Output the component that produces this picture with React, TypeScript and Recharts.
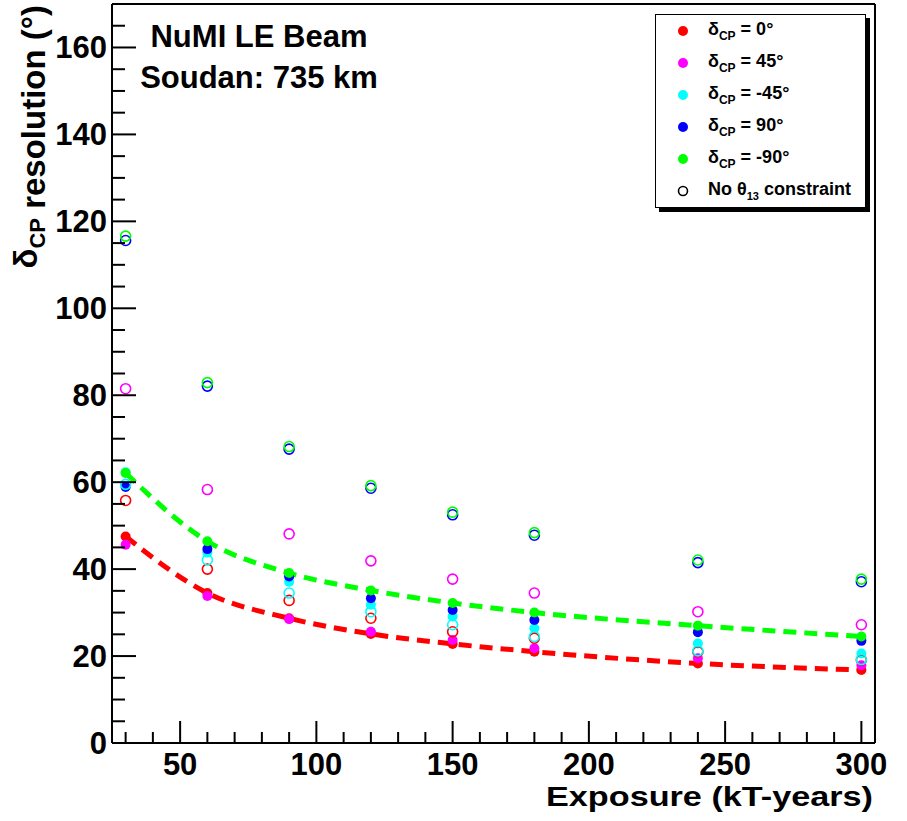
import {
  ComposedChart,
  Line,
  Scatter,
  XAxis,
  YAxis,
  ReferenceLine,
  Legend,
} from "recharts";

const FONT = '"Liberation Sans", Arial, Helvetica, sans-serif';

// exposure in kT-years
const EXPOSURE = [30, 60, 90, 120, 150, 180, 240, 300];

// with theta13 constraint (filled markers)
const DCP_0 = [47.5, 34.5, 28.7, 25.1, 22.8, 21.0, 18.3, 16.8];
const DCP_45 = [45.6, 33.8, 28.5, 25.6, 23.7, 21.8, 19.5, 17.9];
const DCP_M45 = [62.3, 43.8, 37.1, 31.8, 29.1, 26.4, 22.9, 20.6];
const DCP_90 = [58.9, 44.6, 38.3, 33.3, 30.6, 28.3, 25.5, 23.5];
const DCP_M90 = [62.1, 46.4, 39.1, 35.1, 32.2, 30.0, 27.0, 24.5];

// no theta13 constraint (open markers)
const OPEN_0 = [55.8, 40.0, 32.8, 28.7, 25.6, 24.1, 21.0, 19.1];
const OPEN_45 = [81.5, 58.3, 48.1, 41.9, 37.7, 34.5, 30.2, 27.2];
const OPEN_M45 = [59.5, 42.1, 34.5, 30.2, 27.2, 24.5, 21.2, 19.2];
const OPEN_90 = [115.6, 82.1, 67.6, 58.6, 52.5, 47.8, 41.5, 37.1];
const OPEN_M90 = [116.6, 82.9, 68.2, 59.2, 53.1, 48.4, 42.1, 37.7];

const X_TICKS = [
  30, 40, 50, 60, 70, 80, 90, 100, 110, 120, 130, 140, 150, 160, 170, 180,
  190, 200, 210, 220, 230, 240, 250, 260, 270, 280, 290, 300,
];
const X_LABELS = [50, 100, 150, 200, 250, 300];
const Y_TICKS = [
  0, 5, 10, 15, 20, 25, 30, 35, 40, 45, 50, 55, 60, 65, 70, 75, 80, 85, 90,
  95, 100, 105, 110, 115, 120, 125, 130, 135, 140, 145, 150, 155, 160, 165,
];
const Y_LABELS = [0, 20, 40, 60, 80, 100, 120, 140, 160];

const LEGEND = [
  { color: "#ff0000", label: "= 0°" },
  { color: "#ff00ff", label: "= 45°" },
  { color: "#00ffff", label: "= -45°" },
  { color: "#0000ff", label: "= 90°" },
  { color: "#00ff00", label: "= -90°" },
];

const pts = (ys: number[]) => EXPOSURE.map((x, i) => ({ x, y: ys[i] }));

const filled = (color: string) => (p: any) =>
  <circle cx={p.cx} cy={p.cy} r={5} fill={color} />;
const open = (color: string) => (p: any) =>
  <circle cx={p.cx} cy={p.cy} r={5} fill="none" stroke={color} strokeWidth={1.6} />;

function XTick(props: any) {
  const { x, y, payload } = props;
  const major = X_LABELS.includes(payload.value);
  return (
    <g>
      <line x1={x} x2={x} y1={y} y2={y - (major ? 22 : 11)} stroke="#000" strokeWidth={2} />
      {major && (
        <text x={x} y={y + 32} textAnchor="middle" fontSize={31} fontWeight="bold" fontFamily={FONT} fill="#000">
          {payload.value}
        </text>
      )}
    </g>
  );
}

function YTick(props: any) {
  const { x, y, payload } = props;
  const major = Y_LABELS.includes(payload.value);
  return (
    <g>
      <line x1={x} x2={x + (major ? 24 : 13)} y1={y} y2={y} stroke="#000" strokeWidth={2} />
      {major && (
        <text x={x - 5} y={y + 11} textAnchor="end" fontSize={31} fontWeight="bold" fontFamily={FONT} fill="#000">
          {payload.value}
        </text>
      )}
    </g>
  );
}

function LegendBox() {
  const row = { height: 32, display: "flex", alignItems: "center" } as const;
  const marker = (color: string, hollow: boolean) => (
    <svg width={12} height={12} style={{ marginLeft: 21, marginRight: 19 }}>
      {hollow ? (
        <circle cx={6} cy={6} r={4.5} fill="none" stroke={color} strokeWidth={1.6} />
      ) : (
        <circle cx={6} cy={6} r={5} fill={color} />
      )}
    </svg>
  );
  return (
    <div
      style={{
        width: 211,
        height: 194,
        boxSizing: "border-box",
        border: "1.5px solid #000",
        background: "#fff",
        boxShadow: "4px 4px 0 #000",
        fontFamily: FONT,
        fontWeight: "bold",
        fontSize: 18,
        color: "#000",
        lineHeight: 1,
      }}
    >
      {LEGEND.map((d) => (
        <div key={d.label} style={row}>
          {marker(d.color, false)}
          <span>
            δ<sub style={{ fontSize: 12 }}>CP</sub> {d.label}
          </span>
        </div>
      ))}
      <div style={row}>
        {marker("#000", true)}
        <span>
          No θ<sub style={{ fontSize: 11 }}>13</sub> constraint
        </span>
      </div>
    </div>
  );
}

export default function App() {
  return (
    <div style={{ position: "absolute", left: 0, top: 0, width: 907, height: 821, background: "#fff" }}>
      <ComposedChart
        width={907}
        height={821}
        margin={{ top: 4, right: 32, bottom: 77, left: 111 }}
      >
        <XAxis
          type="number"
          dataKey="x"
          domain={[25, 305]}
          allowDataOverflow
          ticks={X_TICKS}
          interval={0}
          height={1}
          tickLine={false}
          tickSize={0}
          tickMargin={0}
          tick={(p: any) => <XTick {...p} />}
          axisLine={{ stroke: "#000", strokeWidth: 2 }}
        />
        <YAxis
          type="number"
          dataKey="y"
          domain={[0, 170]}
          allowDataOverflow
          ticks={Y_TICKS}
          interval={0}
          width={1}
          tickLine={false}
          tickSize={0}
          tickMargin={0}
          tick={(p: any) => <YTick {...p} />}
          axisLine={{ stroke: "#000", strokeWidth: 2 }}
        />
        <ReferenceLine y={170} stroke="#000" strokeWidth={2} ifOverflow="visible" />
        <ReferenceLine x={305} stroke="#000" strokeWidth={2} ifOverflow="visible" />

        <Line data={pts(DCP_0)} dataKey="y" type="monotone" stroke="#ff0000" strokeWidth={5} strokeDasharray="13 8" dot={false} isAnimationActive={false} />
        <Line data={pts(DCP_M90)} dataKey="y" type="monotone" stroke="#00ff00" strokeWidth={5} strokeDasharray="13 8" dot={false} isAnimationActive={false} />

        <Scatter data={pts(DCP_M45)} shape={filled("#00ffff")} isAnimationActive={false} />
        <Scatter data={pts(DCP_90)} shape={filled("#0000ff")} isAnimationActive={false} />
        <Scatter data={pts(DCP_M90)} shape={filled("#00ff00")} isAnimationActive={false} />
        <Scatter data={pts(DCP_0)} shape={filled("#ff0000")} isAnimationActive={false} />
        <Scatter data={pts(DCP_45)} shape={filled("#ff00ff")} isAnimationActive={false} />

        <Scatter data={pts(OPEN_0)} shape={open("#ff0000")} isAnimationActive={false} />
        <Scatter data={pts(OPEN_45)} shape={open("#ff00ff")} isAnimationActive={false} />
        <Scatter data={pts(OPEN_M45)} shape={open("#00ffff")} isAnimationActive={false} />
        <Scatter data={pts(OPEN_90)} shape={open("#0000ff")} isAnimationActive={false} />
        <Scatter data={pts(OPEN_M90)} shape={open("#00ff00")} isAnimationActive={false} />

        <Legend
          layout="vertical"
          align="center"
          verticalAlign="middle"
          content={() => <LegendBox />}
          wrapperStyle={{ position: "absolute", left: 655, top: 14, width: 211, height: 194 }}
        />
      </ComposedChart>

      <svg
        width={907}
        height={821}
        style={{ position: "absolute", left: 0, top: 0, pointerEvents: "none" }}
      >
        <g fontFamily={FONT} fontWeight="bold" fill="#000">
          <text x={259} y={47} textAnchor="middle" fontSize={31}>NuMI LE Beam</text>
          <text x={259} y={88} textAnchor="middle" fontSize={31}>Soudan: 735 km</text>
          <text x={873} y={806} textAnchor="end" fontSize={28} textLength={327} lengthAdjust="spacingAndGlyphs">
            Exposure (kT-years)
          </text>
          <text transform="translate(45,5) rotate(-90)" textAnchor="end" fontSize={33}>
            <tspan dy={-8}>δ</tspan>
            <tspan dy={8} fontSize={22}>CP</tspan>
            <tspan> resolution (°)</tspan>
          </text>
        </g>
      </svg>
    </div>
  );
}
